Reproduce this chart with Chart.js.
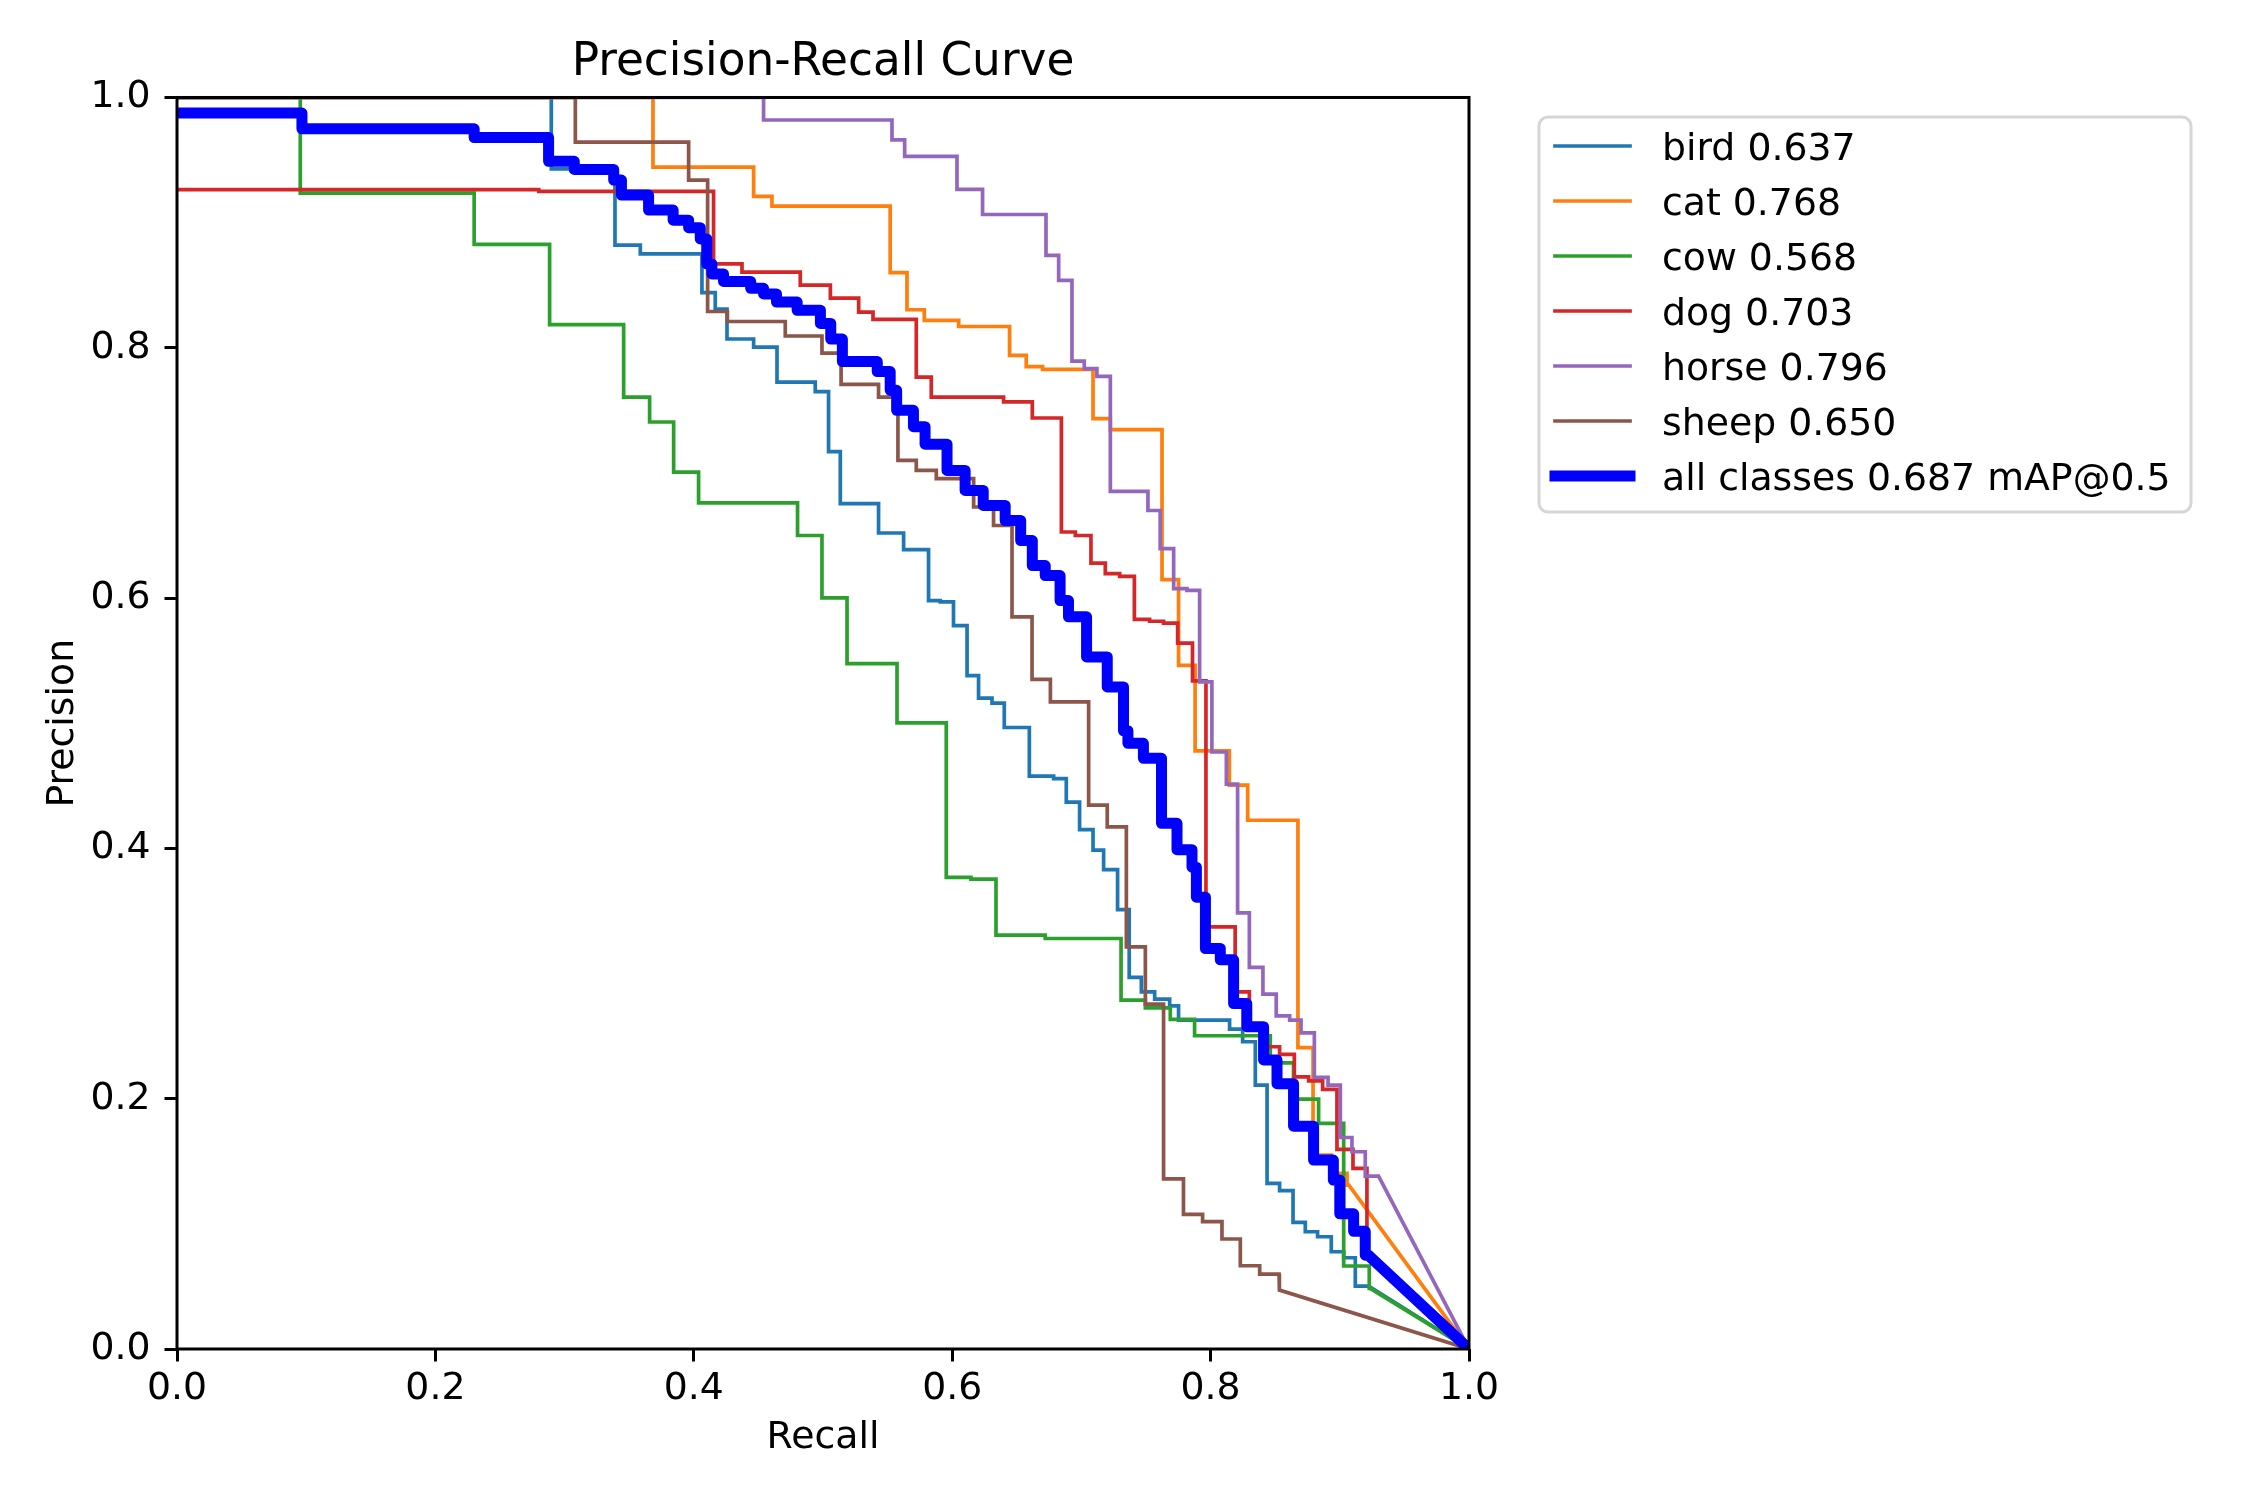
<!DOCTYPE html>
<html lang="en">
<head>
    <meta charset="UTF-8">
    <title>Precision-Recall Curve</title>
    <style>
        body { margin: 0; background: #fff; }
        canvas { display: block; }
    </style>
</head>
<body>
    <canvas id="prChart" width="2250" height="1500"></canvas>

<script src="https://cdn.jsdelivr.net/npm/chart.js@4.4.1/dist/chart.umd.min.js"></script>
<script>

// each class: precision[i] holds from the previous recall value up to recall[i],
// after the last one the curve runs straight down to (1, 0)
var classNames = ['bird', 'cat', 'cow', 'dog', 'horse', 'sheep'];
var classAP = [0.637, 0.768, 0.568, 0.703, 0.796, 0.650];
var mapAll = 0.687;

var birdRecall = [0.2897, 0.339, 0.3586, 0.4063, 0.4166, 0.4257, 0.4463, 0.4644, 0.494, 0.5043, 0.5134, 0.543, 0.5624, 0.5817, 0.5908, 0.601, 0.6115, 0.6204, 0.6308, 0.6403, 0.6597, 0.6785, 0.6883, 0.6986, 0.709, 0.7172, 0.728, 0.737, 0.7464, 0.7567, 0.7683, 0.7752, 0.8147, 0.8248, 0.8346, 0.8437, 0.8534, 0.8638, 0.8733, 0.8828, 0.8934, 0.903, 0.912, 0.9223];
var birdPrecision = [1.0, 0.943, 0.882, 0.875, 0.844, 0.831, 0.807, 0.8006, 0.7726, 0.765, 0.717, 0.6755, 0.652, 0.6387, 0.598, 0.597, 0.578, 0.538, 0.520, 0.516, 0.4966, 0.4577, 0.4558, 0.437, 0.415, 0.3986, 0.383, 0.351, 0.297, 0.2854, 0.2796, 0.2742, 0.2628, 0.2556, 0.2455, 0.2109, 0.1323, 0.1265, 0.1012, 0.0937, 0.0897, 0.0777, 0.0729, 0.0503];

var catRecall = [0.3684, 0.4463, 0.4605, 0.552, 0.565, 0.5784, 0.605, 0.6444, 0.6573, 0.670, 0.709, 0.7224, 0.7624, 0.7752, 0.788, 0.8145, 0.8287, 0.8676, 0.8793, 0.8934, 0.9056, 0.907];
var catPrecision = [1.0, 0.9444, 0.921, 0.9132, 0.86, 0.8304, 0.8219, 0.817, 0.794, 0.785, 0.7827, 0.7434, 0.7346, 0.6148, 0.5463, 0.4779, 0.4505, 0.4225, 0.2408, 0.155, 0.1403, 0.131];

var cowRecall = [0.0954, 0.230, 0.2884, 0.3457, 0.3658, 0.3844, 0.4037, 0.4803, 0.4992, 0.5186, 0.5573, 0.5954, 0.6145, 0.6339, 0.672, 0.7307, 0.7495, 0.7688, 0.7876, 0.8462, 0.8642, 0.8836, 0.903, 0.9228, 0.9235];
var cowPrecision = [1.0, 0.9236, 0.8826, 0.8185, 0.7606, 0.7407, 0.7007, 0.676, 0.650, 0.6001, 0.5477, 0.5003, 0.3768, 0.3754, 0.3307, 0.328, 0.2788, 0.2726, 0.2633, 0.2503, 0.2287, 0.1997, 0.1803, 0.0663, 0.0485];

var dogRecall = [0.280, 0.4153, 0.4373, 0.4824, 0.5057, 0.5276, 0.5387, 0.5722, 0.5838, 0.6398, 0.662, 0.6845, 0.6953, 0.7074, 0.7185, 0.7296, 0.741, 0.7528, 0.7636, 0.7745, 0.786, 0.7964, 0.819, 0.830, 0.8418, 0.8534, 0.8648, 0.8759, 0.8867, 0.8978, 0.9102, 0.921, 0.9215];
var dogPrecision = [0.9263, 0.925, 0.867, 0.8605, 0.850, 0.8397, 0.8285, 0.8227, 0.7766, 0.7606, 0.7567, 0.7439, 0.6528, 0.650, 0.628, 0.6196, 0.6174, 0.583, 0.5815, 0.580, 0.564, 0.5338, 0.3373, 0.2854, 0.2574, 0.2415, 0.2354, 0.2175, 0.2143, 0.2074, 0.1595, 0.1443, 0.0764];

var horseRecall = [0.454, 0.5534, 0.5632, 0.6037, 0.6235, 0.6726, 0.6824, 0.6927, 0.7022, 0.712, 0.7224, 0.7515, 0.761, 0.7714, 0.7817, 0.7915, 0.801, 0.8122, 0.8209, 0.830, 0.8405, 0.8508, 0.8612, 0.870, 0.8803, 0.8909, 0.9004, 0.9094, 0.9197, 0.930];
var horsePrecision = [1.0, 0.982, 0.9662, 0.953, 0.9265, 0.9065, 0.8738, 0.8538, 0.7894, 0.7833, 0.7772, 0.6853, 0.670, 0.6395, 0.6076, 0.6062, 0.533, 0.477, 0.4513, 0.3485, 0.3049, 0.2835, 0.2662, 0.2628, 0.2526, 0.217, 0.2109, 0.169, 0.1576, 0.1382];

var sheepRecall = [0.3083, 0.396, 0.4107, 0.426, 0.4708, 0.4992, 0.514, 0.543, 0.558, 0.5722, 0.5877, 0.6166, 0.632, 0.6463, 0.6618, 0.676, 0.7056, 0.720, 0.7348, 0.7495, 0.7636, 0.779, 0.7938, 0.8088, 0.823, 0.838, 0.853, 0.8535];
var sheepPrecision = [1.0, 0.9643, 0.934, 0.829, 0.821, 0.8094, 0.7958, 0.7708, 0.7606, 0.710, 0.702, 0.6954, 0.6728, 0.658, 0.585, 0.535, 0.517, 0.4345, 0.4172, 0.3213, 0.2756, 0.136, 0.1076, 0.1017, 0.0879, 0.0665, 0.0599, 0.0471];

var allRecall = [0.0967, 0.230, 0.2876, 0.3075, 0.338, 0.344, 0.365, 0.384, 0.396, 0.405, 0.410, 0.414, 0.423, 0.444, 0.454, 0.464, 0.480, 0.498, 0.506, 0.515, 0.542, 0.552, 0.557, 0.570, 0.579, 0.596, 0.610, 0.624, 0.641, 0.653, 0.662, 0.672, 0.6835, 0.690, 0.704, 0.720, 0.7326, 0.736, 0.748, 0.762, 0.774, 0.7856, 0.789, 0.796, 0.8075, 0.8178, 0.828, 0.841, 0.8514, 0.8642, 0.8797, 0.895, 0.900, 0.9107, 0.9197, 0.922];
var allPrecision = [0.9875, 0.975, 0.968, 0.949, 0.9425, 0.934, 0.922, 0.910, 0.902, 0.896, 0.887, 0.867, 0.859, 0.853, 0.8475, 0.843, 0.8365, 0.830, 0.8195, 0.807, 0.789, 0.781, 0.766, 0.750, 0.737, 0.723, 0.702, 0.686, 0.674, 0.662, 0.646, 0.626, 0.618, 0.598, 0.585, 0.553, 0.529, 0.494, 0.484, 0.472, 0.420, 0.399, 0.385, 0.361, 0.320, 0.311, 0.276, 0.2575, 0.231, 0.212, 0.178, 0.151, 0.135, 0.108, 0.094, 0.075];

var axisTicks = [0, 0.2, 0.4, 0.6, 0.8, 1.0];

var classColors = ['#1f77b4', '#ff7f0e', '#2ca02c', '#d62728', '#9467bd', '#8c564b'];
var FONT = "'DejaVu Sans', sans-serif";

// turn the step table into corner points for a plain line
function stepPoints(recall, precision) {
    var pts = [{ x: 0, y: precision[0] }];
    for (var i = 0; i < recall.length; i++) {
        pts.push({ x: recall[i], y: precision[i] });
        if (i + 1 < precision.length) {
            pts.push({ x: recall[i], y: precision[i + 1] });
        }
    }
    pts.push({ x: 1, y: 0 });
    return pts;
}

var classCurves = [
    [birdRecall, birdPrecision],
    [catRecall, catPrecision],
    [cowRecall, cowPrecision],
    [dogRecall, dogPrecision],
    [horseRecall, horsePrecision],
    [sheepRecall, sheepPrecision]
];

var datasets = classCurves.map(function (c, i) {
    return {
        label: classNames[i] + ' ' + classAP[i].toFixed(3),
        data: stepPoints(c[0], c[1]),
        borderColor: classColors[i],
        borderWidth: 3.7,
        order: 6 - i
    };
});
datasets.push({
    label: 'all classes ' + mapAll.toFixed(3) + ' mAP@0.5',
    data: stepPoints(allRecall, allPrecision),
    borderColor: '#0000ff',
    borderWidth: 11,
    borderJoinStyle: 'round',
    order: 0
});
datasets.forEach(function (d) {
    d.showLine = true;
    d.pointRadius = 0;
    d.pointHoverRadius = 0;
    d.tension = 0;
    d.clip = 0;
    d.fill = false;
});

// axes frame on top of the curves, and the boxed legend on the right
var framePlugin = {
    id: 'frame',
    afterDatasetsDraw: function (chart) {
        var a = chart.chartArea, ctx = chart.ctx;
        ctx.save();
        ctx.strokeStyle = '#000';
        ctx.lineWidth = 3;
        ctx.strokeRect(a.left, a.top, a.right - a.left, a.bottom - a.top);
        ctx.restore();
    }
};

var legendPlugin = {
    id: 'boxLegend',
    afterDraw: function (chart) {
        var ctx = chart.ctx;
        var bx = 1539, by = 117, bw = 652, bh = 395, r = 9;
        ctx.save();
        ctx.beginPath();
        ctx.moveTo(bx + r, by);
        ctx.arcTo(bx + bw, by, bx + bw, by + bh, r);
        ctx.arcTo(bx + bw, by + bh, bx, by + bh, r);
        ctx.arcTo(bx, by + bh, bx, by, r);
        ctx.arcTo(bx, by, bx + bw, by, r);
        ctx.closePath();
        ctx.fillStyle = 'rgba(255,255,255,0.8)';
        ctx.fill();
        ctx.strokeStyle = '#d6d6d6';
        ctx.lineWidth = 3;
        ctx.stroke();

        ctx.font = '37.8px ' + FONT;
        ctx.textBaseline = 'alphabetic';
        ctx.textAlign = 'left';
        chart.data.datasets.forEach(function (ds, i) {
            var y = 146 + i * 55;
            ctx.beginPath();
            ctx.lineCap = 'square';
            ctx.strokeStyle = ds.borderColor;
            ctx.lineWidth = ds.borderWidth;
            ctx.moveTo(1555, y);
            ctx.lineTo(1630, y);
            ctx.stroke();
            ctx.fillStyle = '#000';
            ctx.fillText(ds.label, 1662, y + 14);
        });
        ctx.restore();
    }
};

function tickFmt(v) {
    return Number(v).toFixed(1);
}

var ctx = document.getElementById('prChart').getContext('2d');
var prChart = new Chart(ctx, {
    type: 'scatter',
    data: { datasets: datasets },
    plugins: [framePlugin, legendPlugin],
    options: {
        responsive: false,
        devicePixelRatio: 1,
        animation: false,
        events: [],
        color: '#000',
        layout: { padding: { left: 0, right: 781, top: 0, bottom: 0 } },
        plugins: {
            legend: { display: false },
            tooltip: { enabled: false },
            title: {
                display: true,
                text: 'Precision-Recall Curve',
                fullSize: false,
                color: '#000',
                font: { family: FONT, size: 45.4, weight: 'normal', lineHeight: 1.2 },
                padding: { top: 36, bottom: 7 }
            }
        },
        scales: {
            x: {
                type: 'linear',
                min: 0,
                max: 1,
                afterFit: function (scale) { scale.height = 151; },
                afterBuildTicks: function (scale) {
                    scale.ticks = axisTicks.map(function (v) { return { value: v }; });
                },
                border: { display: false },
                grid: { drawOnChartArea: false, drawTicks: true, tickLength: 12.5, tickWidth: 3, tickColor: '#000' },
                ticks: {
                    color: '#000',
                    padding: 5,
                    maxRotation: 0,
                    font: { family: FONT, size: 37.8 },
                    callback: tickFmt
                },
                title: {
                    display: true,
                    text: 'Recall',
                    color: '#000',
                    font: { family: FONT, size: 37.8, lineHeight: 1.2 },
                    padding: { top: 0, bottom: 39.5 }
                }
            },
            y: {
                type: 'linear',
                min: 0,
                max: 1,
                afterFit: function (scale) { scale.width = 177; },
                afterBuildTicks: function (scale) {
                    scale.ticks = axisTicks.map(function (v) { return { value: v }; });
                },
                border: { display: false },
                grid: { drawOnChartArea: false, drawTicks: true, tickLength: 12.5, tickWidth: 3, tickColor: '#000' },
                ticks: {
                    color: '#000',
                    padding: 14,
                    font: { family: FONT, size: 37.8 },
                    callback: tickFmt
                },
                title: {
                    display: true,
                    text: 'Precision',
                    color: '#000',
                    font: { family: FONT, size: 37.8, lineHeight: 1.2 },
                    padding: { top: 40.7, bottom: 0 }
                }
            }
        }
    }
});
</script>
</body>
</html>
